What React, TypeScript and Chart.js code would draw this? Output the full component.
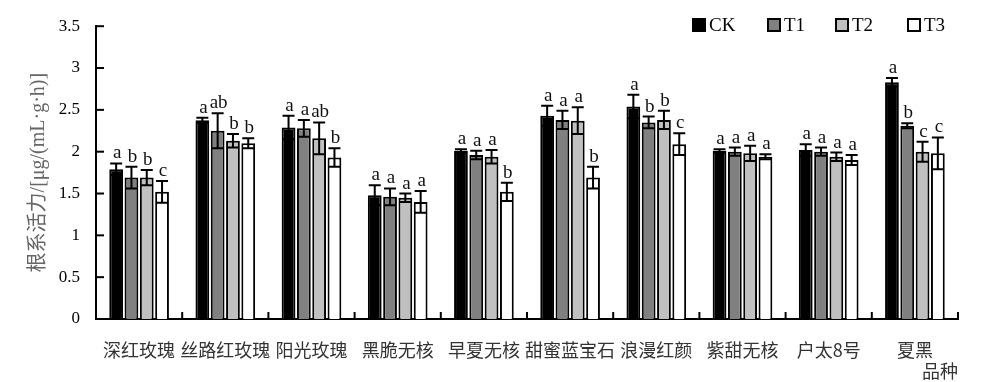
import React, { useEffect, useRef } from "react";
import { Chart, registerables } from "chart.js";

Chart.register(...registerables);

const categories = ["深红玫瑰", "丝路红玫瑰", "阳光玫瑰", "黑脆无核", "早夏无核", "甜蜜蓝宝石", "浪漫红颜", "紫甜无核", "户太8号", "夏黑"];
const seriesNames = ["CK", "T1", "T2", "T3"];
const ckValues = [1.79, 2.375, 2.29, 1.48, 2.01, 2.43, 2.54, 2.01, 2.02, 2.83];
const ckErrors = [0.07, 0.03, 0.14, 0.12, 0.02, 0.12, 0.14, 0.02, 0.07, 0.05];
const t1Values = [1.69, 2.25, 2.28, 1.46, 1.96, 2.38, 2.35, 2.0, 2.0, 2.31];
const t1Errors = [0.13, 0.21, 0.1, 0.1, 0.05, 0.11, 0.07, 0.05, 0.05, 0.03];
const t2Values = [1.69, 2.13, 2.16, 1.45, 1.94, 2.37, 2.38, 1.98, 1.94, 2.0];
const t2Errors = [0.09, 0.08, 0.19, 0.05, 0.08, 0.16, 0.11, 0.09, 0.05, 0.12];
const t3Values = [1.52, 2.1, 1.93, 1.4, 1.52, 1.69, 2.09, 1.94, 1.9, 1.98];
const t3Errors = [0.13, 0.06, 0.11, 0.13, 0.11, 0.13, 0.13, 0.03, 0.06, 0.19];
const ckLetters = ["a", "a", "a", "a", "a", "a", "a", "a", "a", "a"];
const t1Letters = ["b", "ab", "a", "a", "a", "a", "b", "a", "a", "b"];
const t2Letters = ["b", "b", "ab", "a", "a", "a", "b", "a", "a", "c"];
const t3Letters = ["c", "b", "b", "a", "b", "b", "c", "a", "a", "c"];
const yTitle = "根系活力/[μg/(mL·g·h)]";
const xTitle = "品种";

const fills = ["#000000", "#808080", "#c0c0c0", "#ffffff"];
const valuesList = [ckValues, t1Values, t2Values, t3Values];
const errorsList = [ckErrors, t1Errors, t2Errors, t3Errors];
const lettersList = [ckLetters, t1Letters, t2Letters, t3Letters];

const SERIF = '"Liberation Serif", "Noto Sans CJK SC", serif';

const overlay = {
  id: "overlay",
  afterDatasetsDraw(chart: any) {
    const { ctx, chartArea, scales } = chart;
    const y = scales.y;
    ctx.save();
    ctx.strokeStyle = "#000";
    ctx.lineWidth = 2;
    valuesList.forEach((vals, i) => {
      const meta = chart.getDatasetMeta(i);
      meta.data.forEach((bar: any, j: number) => {
        const v = vals[j];
        const e = errorsList[i][j];
        const yt = y.getPixelForValue(v + e);
        const yb = y.getPixelForValue(v - e);
        const cx = bar.x;
        const half = 6;
        ctx.beginPath();
        ctx.moveTo(cx, yt);
        ctx.lineTo(cx, yb);
        ctx.moveTo(cx - half, yt);
        ctx.lineTo(cx + half, yt);
        ctx.moveTo(cx - half, yb);
        ctx.lineTo(cx + half, yb);
        ctx.stroke();
        ctx.font = "19px " + SERIF;
        ctx.textAlign = "center";
        ctx.textBaseline = "alphabetic";
        ctx.fillStyle = "#111";
        ctx.fillText(lettersList[i][j], cx + 1, yt - 5);
      });
    });
    // inward ticks on y axis
    y.ticks.forEach((t: any) => {
      const py = y.getPixelForValue(t.value);
      ctx.beginPath();
      ctx.moveTo(chartArea.left, py);
      ctx.lineTo(chartArea.left + 8, py);
      ctx.stroke();
    });
    // inward ticks on x axis at category boundaries
    const n = categories.length;
    const w = (chartArea.right - chartArea.left) / n;
    for (let k = 1; k <= n; k++) {
      const px = chartArea.left + k * w;
      ctx.beginPath();
      ctx.moveTo(px, chartArea.bottom);
      ctx.lineTo(px, chartArea.bottom - 7);
      ctx.stroke();
    }
    // legend
    const offsets = [265, 190, 122, 50];
    seriesNames.forEach((name, i) => {
      const bx = chartArea.right - offsets[i];
      const by = 19;
      ctx.fillStyle = fills[i];
      ctx.fillRect(bx, by, 12, 12);
      ctx.lineWidth = 2;
      ctx.strokeStyle = "#000";
      ctx.strokeRect(bx, by, 12, 12);
      ctx.fillStyle = "#000";
      ctx.font = "19px " + SERIF;
      ctx.textAlign = "left";
      ctx.textBaseline = "alphabetic";
      ctx.fillText(name, bx + 16, 31);
    });
    ctx.restore();
  },
};

export default function App() {
  const ref = useRef<HTMLCanvasElement>(null);
  useEffect(() => {
    if (!ref.current) return;
    const chart = new Chart(ref.current, {
      type: "bar",
      data: {
        labels: categories,
        datasets: seriesNames.map((name, i) => ({
          label: name,
          data: valuesList[i],
          backgroundColor: fills[i],
          borderColor: "#000",
          borderWidth: 2,
          categoryPercentage: 0.71,
          barPercentage: 0.9,
        })),
      },
      options: {
        responsive: false,
        animation: false,
        layout: { padding: { top: 24, right: 23, left: 0, bottom: 0 } },
        plugins: { legend: { display: false }, tooltip: { enabled: false } },
        scales: {
          x: {
            grid: { display: false, drawTicks: false },
            border: { display: true, color: "#000", width: 2 },
            ticks: {
              color: "#333",
              font: { family: '"Noto Sans CJK SC", sans-serif', size: 18 },
              padding: 20,
              autoSkip: false,
              maxRotation: 0,
              minRotation: 0,
            },
            title: {
              display: true,
              text: xTitle,
              align: "end",
              color: "#333",
              font: { family: '"Noto Sans CJK SC", sans-serif', size: 18 },
              padding: 0,
            },
            afterFit: (s: any) => {
              s.height = 63;
            },
          },
          y: {
            min: 0,
            max: 3.5,
            ticks: {
              stepSize: 0.5,
              color: "#000",
              font: { family: SERIF, size: 17 },
              padding: 16,
              callback: (v: any) => String(v),
            },
            grid: { display: false, drawTicks: false },
            border: { display: true, color: "#000", width: 2 },
            title: {
              display: true,
              text: yTitle,
              color: "#666",
              font: { family: SERIF, size: 20 },
              padding: { top: 27, bottom: 0 },
            },
            afterFit: (s: any) => {
              s.width = 96;
            },
          },
        },
      },
      plugins: [overlay],
    });
    return () => chart.destroy();
  }, []);
  return (
    <div style={{ position: "fixed", left: 0, top: 0, width: 981, height: 382, background: "#fff" }}>
      <canvas ref={ref} width={981} height={382} style={{ display: "block" }} />
    </div>
  );
}
